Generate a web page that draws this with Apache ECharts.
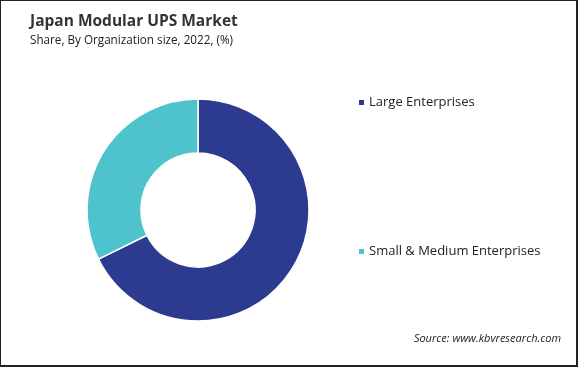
<!DOCTYPE html>
<html>
<head>
<meta charset="utf-8">
<script src="https://cdn.jsdelivr.net/npm/echarts@6/dist/echarts.min.js"></script>
<style>
html,body{margin:0;padding:0;background:#fff;}
#frame{position:absolute;left:0;top:0;width:578px;height:367px;box-sizing:border-box;border-left:1px solid #222;border-top:1px solid #222;border-right:2px solid #222;border-bottom:2px solid #222;}
#chart{position:absolute;left:0;top:0;width:578px;height:367px;}
</style>
</head>
<body>
<div id="chart"></div>
<div id="frame"></div>
<script>
const categories = ['Large Enterprises', 'Small & Medium Enterprises'];
const shares = [67.7, 32.3];
const colors = ['#2C3A8F', '#4EC3CE'];

const chart = echarts.init(document.getElementById('chart'), null, {renderer: 'canvas'});
const font = '"Open Sans", "Noto Sans", sans-serif';
chart.setOption({
  animation: false,
  title: [
    {text: 'Japan Modular UPS Market', left: 25, top: 9,
     textStyle: {fontFamily: font, fontSize: 15.5, fontWeight: 'bold', color: '#333'}},
    {text: 'Share, By Organization size, 2022, (%)', left: 25, top: 30,
     textStyle: {fontFamily: font, fontSize: 11.7, fontWeight: 'normal', color: '#222'}},
    {text: 'Source: www.kbvresearch.com', right: 12, top: 328,
     textStyle: {fontFamily: font, fontSize: 11, fontStyle: 'italic', fontWeight: 'normal', color: '#222'}}
  ],
  legend: {
    orient: 'vertical', left: 352, top: 91,
    itemWidth: 7, itemHeight: 7, itemGap: 136, icon: 'rect',
    textStyle: {fontFamily: font, fontSize: 13, color: '#222', padding: [0,0,0,-1]},
    data: categories
  },
  series: [{
    type: 'pie',
    center: [198, 210],
    radius: [57, 111],
    startAngle: 90,
    clockwise: true,
    label: {show: false},
    labelLine: {show: false},
    itemStyle: {borderColor: '#fff', borderWidth: 1.5},
    emphasis: {disabled: true},
    data: categories.map((c, i) => ({name: c, value: shares[i], itemStyle: {color: colors[i]}}))
  }]
});
</script>
</body>
</html>
